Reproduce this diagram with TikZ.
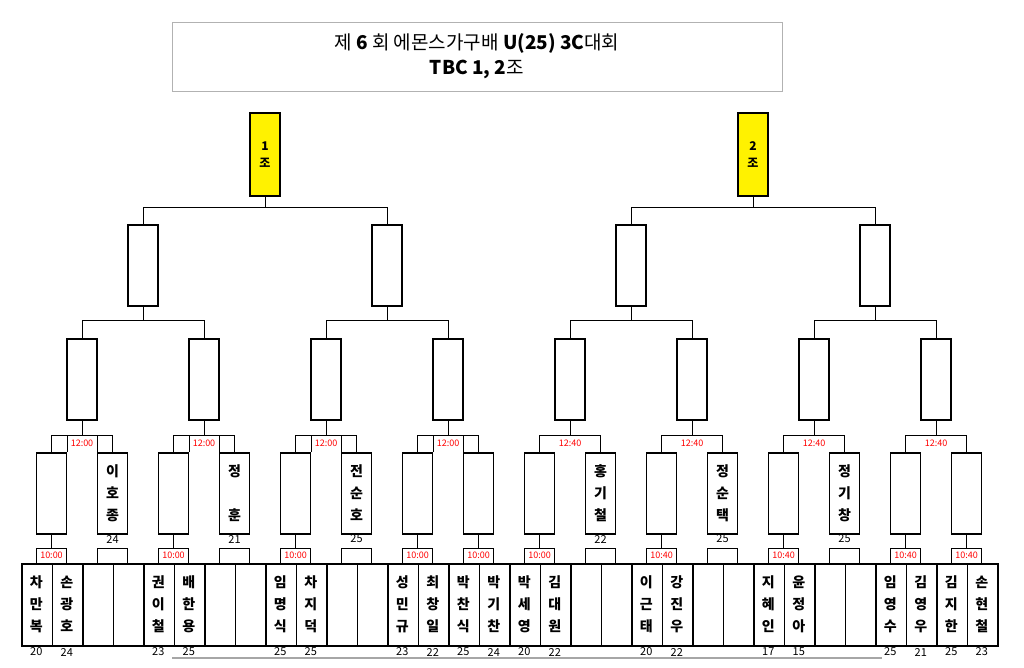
\documentclass[tikz,border=0pt]{standalone}
\usepackage{fontspec}
\setmainfont{Noto Sans CJK KR}
\begin{document}
\begin{tikzpicture}[x=1pt,y=-1pt,
  cellbox/.style={draw,line width=1.6pt,minimum width=30.5pt,minimum height=82pt,inner sep=0,anchor=north west},
  rbox/.style={draw,line width=1.6pt,minimum width=30pt,minimum height=81pt,inner sep=0,anchor=north},
  tbox/.style={draw,line width=0.8pt,minimum width=30.5pt,minimum height=15pt,inner sep=0,anchor=north},
  pname/.style={font=\bfseries\fontsize{14}{22}\selectfont,align=center},
  pscore/.style={font=\fontsize{11}{11}\selectfont},
  ptime/.style={font=\fontsize{9}{9}\selectfont,text=red},
  ln/.style={line width=0.8pt}]
\useasboundingbox (0,0) rectangle (1024,667);
\node[draw=black!30,line width=0.8pt,minimum width=610pt,minimum height=69pt,anchor=north west,inner sep=0] (title) at (172,22) {};
\node[font=\fontsize{19}{25}\selectfont,align=center] (ttext) at (477,56) {제 \textbf{6} 회 에몬스가구배 \textbf{U(25) 3C}대회\\\textbf{TBC 1, 2}조};
% bottom row
\foreach \i/\n/\s in {0/차\\만\\복/20,1/손\\광\\호/24,2//,3//,4/권\\이\\철/23,5/배\\한\\용/25,6//,7//,8/임\\명\\식/25,9/차\\지\\덕/25,10//,11//,12/성\\민\\규/23,13/최\\창\\일/22,14/박\\찬\\식/25,15/박\\기\\찬/24,16/박\\세\\영/20,17/김\\대\\원/22,18//,19//,20/이\\근\\태/20,21/강\\진\\우/22,22//,23//,24/지\\혜\\인/17,25/윤\\정\\아/15,26//,27//,28/임\\영\\수/25,29/김\\영\\우/21,30/김\\지\\한/25,31/손\\현\\철/23}{
  \node[cellbox] (b\i) at ({21+30.5*\i},563) {};
  \node[pname] (bn\i) at ({21+30.5*(\i+0.5)},604) {\n};
  \node[pscore] (bs\i) at ({21+30.5*(\i+0.5)},652) {\s};
}
\draw[black!35,line width=1.2pt] (172,658) -- (882,658);
% time boxes and second row
\foreach \k/\t/\n/\s/\bye in {0/10:00///0,1//이\\호\\종/24/1,2/10:00///0,3//정\\[22pt]훈/21/1,4/10:00///0,5//전\\순\\호/25/1,6/10:00///0,7/10:00///0,8/10:00///0,9//홍\\기\\철/22/1,10/10:40///0,11//정\\순\\택/25/1,12/10:40///0,13//정\\기\\창/25/1,14/10:40///0,15/10:40///0}{
  \node[tbox] (t\k) at ({51.5+61*\k},547.5) {};
  \node[ptime] (tt\k) at (t\k) {\t};
  \node[rbox] (r\k) at ({51.5+61*\k},452) {};
  \node[pname] (rn\k) at ({51.5+61*\k},493) {\n};
  \node[pscore] (rs\k) at ({51.5+61*\k},539) {\s};
  \ifnum\bye=0 \draw[ln] (r\k.south) -- (t\k.north); \fi
}
% third row
\foreach \j/\t/\bx in {0/12:00/1,1/12:00/1,2/12:00/1,3/12:00/1,4/12:40/0,5/12:40/0,6/12:40/0,7/12:40/0}{
  \pgfmathtruncatemacro{\a}{2*\j}\pgfmathtruncatemacro{\b}{2*\j+1}
  \node[rbox] (q\j) at ({82+122*\j},338) {};
  \draw[ln] (r\a.north) -- ++(0,-17) -| (r\b.north);
  \draw[ln] ({82+122*\j},435) -- (q\j.south);
  \ifnum\bx=1 \draw[ln] ({67+122*\j},452) -- ({67+122*\j},435) ({97+122*\j},452) -- ({97+122*\j},435); \fi
  \node[ptime] (qt\j) at ({82+122*\j},443.5) {\t};
}
% fourth row
\foreach \m in {0,1,2,3}{
  \pgfmathtruncatemacro{\a}{2*\m}\pgfmathtruncatemacro{\b}{2*\m+1}
  \node[rbox] (f\m) at ({143+244*\m},224) {};
  \draw[ln] (q\a.north) -- ++(0,-18) -| (q\b.north);
  \draw[ln] ({143+244*\m},320) -- (f\m.south);
}
% groups
\foreach \g/\lab in {0/1,1/2}{
  \pgfmathtruncatemacro{\a}{2*\g}\pgfmathtruncatemacro{\b}{2*\g+1}
  \node[draw,fill=yellow,line width=1.6pt,minimum width=30pt,minimum height=83pt,anchor=north,inner sep=0,
        font=\bfseries\fontsize{12}{17}\selectfont,align=center] (g\g) at ({265+488*\g},112) {\lab\\조};
  \draw[ln] (f\a.north) -- ++(0,-17) -| (f\b.north);
  \draw[ln] ({265+488*\g},207) -- (g\g.south);
}
\end{tikzpicture}
\end{document}
